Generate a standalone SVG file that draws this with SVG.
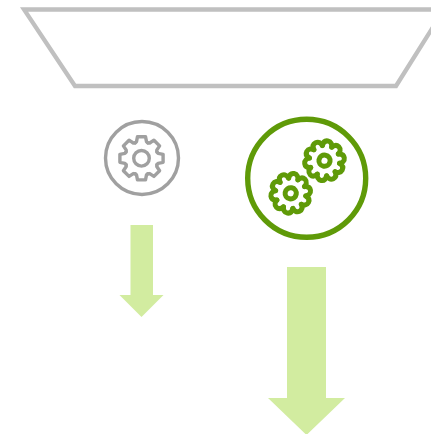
<svg xmlns="http://www.w3.org/2000/svg" xmlns:xlink="http://www.w3.org/1999/xlink" width="431" height="434" viewBox="0 0 431 434">
<style>
.gray{stroke:#a0a0a0;fill:none;stroke-width:3.4;stroke-linejoin:round;stroke-linecap:round}
.green{stroke:#5f9a08;fill:none;stroke-linejoin:round;stroke-linecap:round}
.arrow{fill:#d2eca0}
</style>
<defs>
<path id="t8" d="M-6.4,-15.4L-5,-16.6L-4,-21.6H4L5,-16.6L6.4,-15.4"/>
<path id="t10" d="M-4.7,-14.6C-4.6,-17-3.6,-20-.1,-20C3.4,-20,4.6,-17,4.7,-14.6"/>
<g id="gear8">
<use xlink:href="#t8"/>
<use xlink:href="#t8" transform="rotate(45)"/>
<use xlink:href="#t8" transform="rotate(90)"/>
<use xlink:href="#t8" transform="rotate(135)"/>
<use xlink:href="#t8" transform="rotate(180)"/>
<use xlink:href="#t8" transform="rotate(225)"/>
<use xlink:href="#t8" transform="rotate(270)"/>
<use xlink:href="#t8" transform="rotate(315)"/>
<circle r="7.8"/>
</g>
<g id="gear10">
<use xlink:href="#t10"/>
<use xlink:href="#t10" transform="rotate(36)"/>
<use xlink:href="#t10" transform="rotate(72)"/>
<use xlink:href="#t10" transform="rotate(108)"/>
<use xlink:href="#t10" transform="rotate(144)"/>
<use xlink:href="#t10" transform="rotate(180)"/>
<use xlink:href="#t10" transform="rotate(216)"/>
<use xlink:href="#t10" transform="rotate(252)"/>
<use xlink:href="#t10" transform="rotate(288)"/>
<use xlink:href="#t10" transform="rotate(324)"/>
<circle r="5.6"/>
</g>
</defs>
<rect width="431" height="434" fill="#fff"/>
<g id="funnel"><path d="M24,9.5H444L396,86H75Z" fill="none" stroke="#c0c0c0" stroke-width="4.3"/></g>
<g id="node-small">
<circle class="gray" cx="142" cy="158" r="36.5"/>
<use xlink:href="#gear8" class="gray" transform="translate(141.5,158.3)"/>
</g>
<g id="node-large">
<circle class="green" cx="306.7" cy="178.3" r="59" stroke-width="5.4"/>
<use xlink:href="#gear10" class="green" stroke-width="5" transform="translate(324.5,160.7) rotate(10)"/>
<use xlink:href="#gear10" class="green" stroke-width="5" transform="translate(290.7,193.3) rotate(10)"/>
</g>
<g id="connectors">
<path class="arrow" d="M130.5,225H153V295H163.5L141.5,317L119.5,295H130.5Z"/>
<path class="arrow" d="M287,267H326V398H345L306.5,435L268,398H287Z"/>
</g>
</svg>
